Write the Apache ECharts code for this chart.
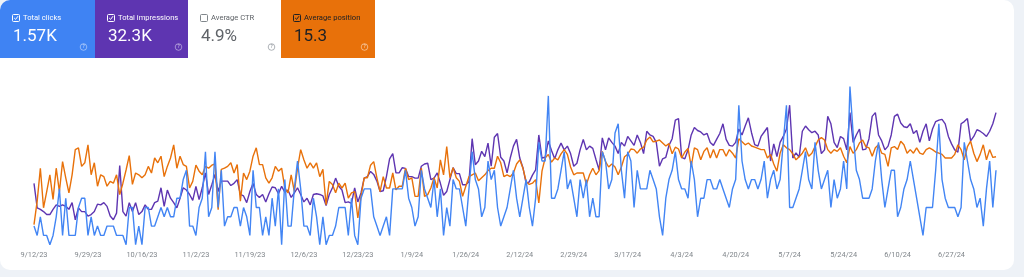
<!DOCTYPE html>
<html><head><meta charset="utf-8">
<script src="https://cdn.jsdelivr.net/npm/echarts@6/dist/echarts.min.js"></script>
<style>html,body{margin:0;padding:0;background:#eef2f7;}#c{width:1024px;height:277px;}</style>
</head><body><div id="c"></div>
<script>
var START = [2023, 8, 12]; // 9/12/23, one category per day
var tickLabels = ['9/12/23','9/29/23','10/16/23','11/2/23','11/19/23','12/6/23','12/23/23','1/9/24','1/26/24','2/12/24','2/29/24','3/17/24','4/3/24','4/20/24','5/7/24','5/24/24','6/10/24','6/27/24'];
var cardLabels = ['Total clicks','Total impressions','Average CTR','Average position'];
var cardValues = ['1.57K','32.3K','4.9%','15.3'];

var clicks = [
2,1,3,1,1,0,1,3,6,1, 5,1,1,1,4,5,5,1,3,1, 2,1,1,2,2,2,1,1,1,0, 4,4,0,2,0,4,4,2,2,3, 4,3,4,3,3,5,5,7,8,2, 2,1,4,5,10,3,4,10,4,8, 2,
3,3,4,4,2,4,3,1,8,4, 4,1,3,1,5,2,6,0,7,2, 2,6,9,6,2,2,1,5,3,0, 3,0,1,1,2,4,4,4,1,5, 1,0,5,6,6,6,3,2,1,2, 3,1,6,6,6,6,8,5,4,2,
3,8,6,5,4,7,3,6,1,4, 2,7,6,6,4,2,6,10,7,6, 3,4,9,7,8,4,2,3,4,6, 8,5,3,5,7,4,2,5,11,9, 9,16,5,5,6,8,10,6,7,5, 3,7,5,7,3,5,3,3,10,9,
6,7,12,13,8,5,10,9,4,8, 6,6,6,8,7,6,3,1,5,7, 8,10,7,6,6,5,9,7,3,5, 5,7,7,6,6,7,6,5,4,6, 7,15,9,7,6,7,7,6,7,9, 5,7,8,6,7,11,15,4,4,5,
6,8,10,7,6,11,8,6,7,8, 4,7,5,6,9,6,17,12,8,7, 5,5,5,6,9,11,7,4,6,8, 8,3,4,6,7,9,7,5,3,1, 4,4,4,8,13,7,5,4,4,4, 3,4,11,9,7,6,4,5,2,6, 9,4,8
];
var impressions = [
95,62,60,57,53,53,60,66,64,66, 64,60,69,46,62,57,57,51,53,57, 67,66,69,64,51,46,55,119,57,51, 69,57,69,53,57,66,60,60,69,71, 89,64,86,75,69,62,75,89,86,80, 72,91,73,89,109,80,93,107,84,98, 98,
98,92,95,100,80,78,69,84,95,80, 76,80,70,81,90,89,81,91,83,86, 76,82,89,80,70,75,66,80,81,80, 78,65,80,89,102,91,86,69,70,68, 89,70,82,102,104,111,107,98,84,85, 104,128,135,109,109,116,115,104,104,102,
102,118,121,122,100,102,109,95,79,84, 100,116,108,108,93,93,97,155,120,125, 138,131,149,118,157,162,130,125,109,129, 145,154,129,116,95,97,106,113,160,129, 130,152,139,128,140,149,140,145,135,118, 122,140,154,140,145,142,127,113,156,140,
156,150,145,135,150,145,158,152,146,160, 150,135,165,160,158,150,118,128,130,146, 155,180,182,130,128,140,160,170,166,164, 160,162,150,146,154,162,175,154,146,145, 150,168,160,172,183,163,147,145,158,164, 170,125,148,131,150,158,168,200,129,136,
130,165,172,167,163,165,160,135,140,185, 175,150,143,158,155,140,190,150,160,168, 140,141,155,185,190,160,152,140,145,160, 185,188,176,171,170,175,162,166,150,165, 175,152,168,178,180,181,175,158,148,140, 137,175,178,182,152,158,167,165,162,158, 165,175,190
];
var position = [
26.1,22.2,16.7,23.3,20.6,17.8,21.9,16.7,20.6,15.6, 18.3,20.8,17.8,13.6,13.3,16.4,15.8,12.8,17.8,15.8, 19.7,17.8,18.1,19.7,18.9,19.2,17.8,21.1,19.2,17, 14.6,19.4,17.5,17.8,18.3,17.8,16.4,17.5,15,15.8, 14.7,18.1,16.4,15,12.8,16.7,14.7,16.1,16.4,20, 18.9,16.2,17.2,17.8,16.4,16.7,16.2,16,23.6,16.9, 16.7,
16.4,15.8,17.5,16.1,22.2,17.5,18.6,17.2,14.7,13.3, 16.1,16.1,18.3,19.2,18.3,16.4,17.2,16.7,20,20.8, 17.8,20.6,16.7,13.6,15.3,16.7,15.8,16.7,15.8,18.1, 16.9,22.8,18.9,19.4,20.8,19.2,20,19.2,21.7,20.8, 20.6,25,21.4,18.3,18.3,16.2,15.6,18.3,20.6,18.1, 20,20,17.5,20.3,19.7,19.7,16.7,18.6,18.3,21.4,
21.4,16.7,21.4,21.1,20,18.3,20,15.3,17.8,13.1, 18.3,16.6,18.3,18.9,21.4,19.7,18.1,17.8,17.5,18.8, 18.3,17.8,17.1,16.7,16.7,14.7,15.8,18.1,17.8,18.1, 17.5,16,15.3,16.7,18.9,19.4,19.2,18.6,22.5,17.2, 15,14.4,15.7,15,15.3,14.3,13.6,14.4,16.5,17.8, 17.5,17.5,17.5,19.4,17.8,16.7,17.8,17.1,13.9,15.6,
16.5,16,16.5,17.8,16.5,14.8,14.4,13.5,13.6,14.2, 13.5,13.2,12,11.5,12.3,12.2,12,12.5,13,12.6, 14.3,13.2,13.5,15,14,13.4,16.4,13.3,13.6,15.3, 13.9,13.3,15,13.6,15,13.6,13.6,14.7,13.6,14.2, 15,11.8,12.3,12.8,12.5,13,13.2,13.4,13.6,13.6, 15,14.4,16,17.2,14.2,12.8,13.3,13.6,14.3,15.3,
14.8,14.2,13.3,14.7,14.2,13.1,12,11.6,12,13.6, 14.2,13.6,13.9,13.3,14.7,15.8,13.1,14.2,13.6,12.5, 12,13.1,13.3,14.7,13.3,12.8,14.2,14.4,16.4,13.3, 13.1,13.6,12.2,12.8,14.2,13.6,14.2,13.3,14.2,14.4, 13.6,13.3,13.6,14,14.2,14.4,15,15,15,14.4, 12.8,13.6,15.3,13.1,12.2,14.2,15.6,14.4,12.8,15.3, 13.6,14.9,14.8
];

var categories = [];
(function(){
  var d = new Date(START[0], START[1], START[2]);
  for (var i = 0; i < clicks.length; i++) {
    categories.push((d.getMonth()+1) + '/' + d.getDate() + '/' + String(d.getFullYear()).slice(2));
    d.setDate(d.getDate()+1);
  }
})();

var cards = [
  {x:0,   w:95, bg:'#3f83f3', fg:'#ffffff', box:'#ffffff', checked:true,  help:'rgba(255,255,255,0.55)', r:[10,0,0,0]},
  {x:95,  w:93, bg:'#5e35b1', fg:'#ffffff', box:'#ffffff', checked:true,  help:'rgba(255,255,255,0.55)', r:0},
  {x:188, w:93, bg:'#ffffff', fg:'#5f6368', box:'#80868b', checked:false, help:'#9aa0a6', r:0},
  {x:281, w:94, bg:'#e8710a', fg:'#202124', box:'#202124', checked:true,  help:'rgba(255,255,255,0.6)', r:0}
];
var graphic = [
  {type:'rect', z:-10, shape:{x:0,y:0,width:1014,height:270,r:10}, style:{fill:'#ffffff'}}
];
cards.forEach(function(c, i){
  graphic.push({type:'rect', z:-5, shape:{x:c.x,y:0,width:c.w,height:58,r:c.r}, style:{fill:c.bg}});
  graphic.push({type:'rect', shape:{x:c.x+12.5,y:14.5,width:7,height:7,r:1}, style:{fill:'none',stroke:c.box,lineWidth:1}});
  if (c.checked) graphic.push({type:'polyline', shape:{points:[[c.x+14.2,18],[c.x+15.6,19.4],[c.x+18,16.2]]}, style:{stroke:c.box,lineWidth:1,fill:'none'}});
  graphic.push({type:'text', style:{x:c.x+23,y:18,text:cardLabels[i],fill:c.fg,font:'7.6px Roboto',verticalAlign:'middle'}});
  graphic.push({type:'text', style:{x:c.x+13,y:37,text:cardValues[i],fill:c.fg,font:'17px Roboto',verticalAlign:'middle'}});
  graphic.push({type:'circle', shape:{cx:c.x+83.5,cy:47,r:3.3}, style:{fill:'none',stroke:c.help,lineWidth:0.8}});
  graphic.push({type:'text', style:{x:c.x+83.5,y:47.3,text:'?',fill:c.help,font:'bold 4.5px Roboto',align:'center',verticalAlign:'middle'}});
});

var chart = echarts.init(document.getElementById('c'), null, {renderer:'canvas'});
chart.setOption({
  animation:false,
  backgroundColor:'#eef2f7',
  graphic: graphic,
  grid:{left:34, right:28, top:68, bottom:23},
  xAxis:{type:'category', data:categories, boundaryGap:false, offset:-4,
    axisLine:{show:false}, axisTick:{show:false}, splitLine:{show:false},
    axisLabel:{interval:16, margin:2, fontSize:7.4, fontFamily:'Roboto', color:'#80868b'}},
  yAxis:[
    {type:'value', min:-1, max:19, show:false},
    {type:'value', min:0, max:250, show:false},
    {type:'value', min:0, max:31, inverse:true, show:false}
  ],
  series:[
    {type:'line', name:'Impressions', yAxisIndex:1, data:impressions, showSymbol:false, lineStyle:{color:'#5e35b1', width:1.4}, itemStyle:{color:'#5e35b1'}},
    {type:'line', name:'Position', yAxisIndex:2, data:position, showSymbol:false, lineStyle:{color:'#e8710a', width:1.4}, itemStyle:{color:'#e8710a'}},
    {type:'line', name:'Clicks', yAxisIndex:0, data:clicks, showSymbol:false, lineStyle:{color:'#4285f4', width:1.4}, itemStyle:{color:'#4285f4'}}
  ]
});
</script></body></html>
